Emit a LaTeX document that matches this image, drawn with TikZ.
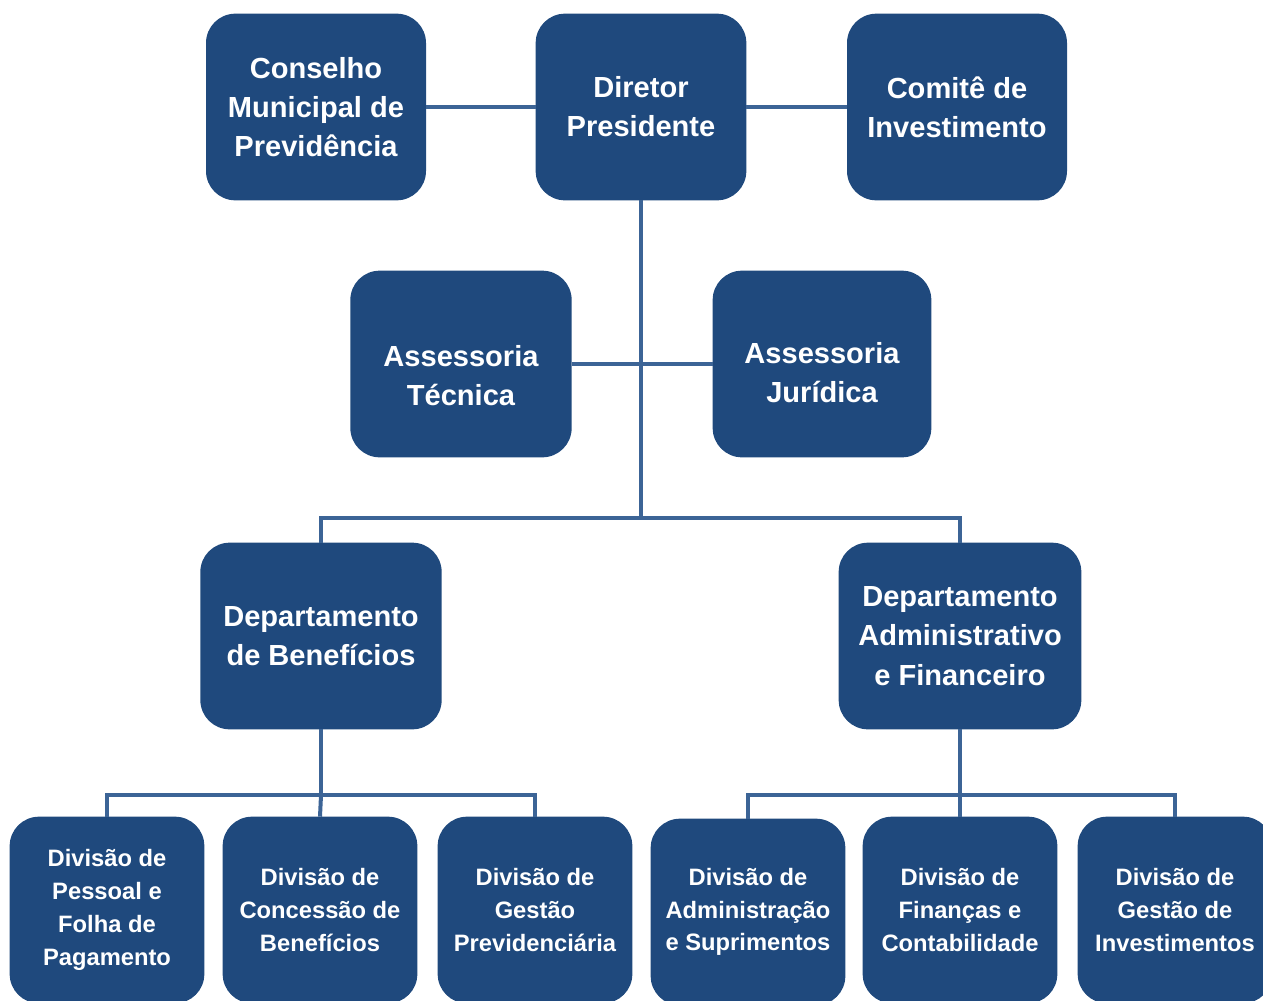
\documentclass[tikz,border=0pt]{standalone}
\usepackage{fontspec}
\setmainfont{Liberation Sans}
\definecolor{boxblue}{HTML}{1F497D}
\definecolor{lineblue}{HTML}{3C6496}
\begin{document}
\begin{tikzpicture}[x=0.75pt,y=-0.75pt,inner sep=0pt,outer sep=0pt,
orgbox/.style={fill=boxblue,rounded corners=22pt,text=white,align=center,
  font=\fontsize{21.8}{29.4}\selectfont\bfseries,minimum height=140pt},
divbox/.style={orgbox,font=\fontsize{17.8}{24.6}\selectfont\bfseries,minimum width=146pt},
link/.style={draw=lineblue,line width=3pt}]
\useasboundingbox (0,0) rectangle (1263,1000);
% top row
\draw (316,107) node[orgbox,minimum width=165pt] (cons) {Conselho\\Municipal de\\Previdência};
\draw (641,107) node[orgbox,minimum width=158pt] (dir) {Diretor\\Presidente};
\draw (957,107) node[orgbox,minimum width=165pt] (comite) {Comitê de\\Investimento};
% assessorias
\draw (461,364) node[orgbox,minimum width=166pt,text height=62.1pt,text depth=0pt] (tec) {Assessoria\\Técnica};
\draw (822,364) node[orgbox,minimum width=164pt,text height=57.6pt,text depth=0pt] (jur) {Assessoria\\Jurídica};
% departamentos
\draw (321,636) node[orgbox,minimum width=181pt] (benef) {Departamento\\de Benefícios};
\draw (960,636) node[orgbox,minimum width=182pt] (adm) {Departamento\\Administrativo\\e Financeiro};
% divisoes
\draw (107,910) node[divbox] (pessoal) {Divisão de\\Pessoal e\\Folha de\\Pagamento};
\draw (320,910) node[divbox] (conc) {Divisão de\\Concessão de\\Benefícios};
\draw (535,910) node[divbox] (gprev) {Divisão de\\Gestão\\Previdenciária};
\draw (748,912) node[divbox] (supr) {Divisão de\\Administração\\e Suprimentos};
\draw (960,910) node[divbox] (fin) {Divisão de\\Finanças e\\Contabilidade};
\draw (1175,910) node[divbox] (ginv) {Divisão de\\Gestão de\\Investimentos};
% ligacoes
\coordinate (hub) at (641,518);
\draw[link] (cons.east) -- (dir.west);
\draw[link] (dir.east) -- (comite.west);
\draw[link] (dir.south) -- (hub);
\draw[link] (tec.east) -- (jur.west);
\draw[link] (benef.north) |- (hub) -| (adm.north);
\draw[link] (benef.south) -- ++(0,66) coordinate (bj);
\draw[link] (pessoal.north) |- (bj) -| (gprev.north);
\draw[link] (bj) -- (conc.north);
\draw[link] (adm.south) -- ++(0,66) coordinate (aj);
\draw[link] (supr.north) |- (aj) -| (ginv.north);
\draw[link] (aj) -- (fin.north);
\end{tikzpicture}
\end{document}
